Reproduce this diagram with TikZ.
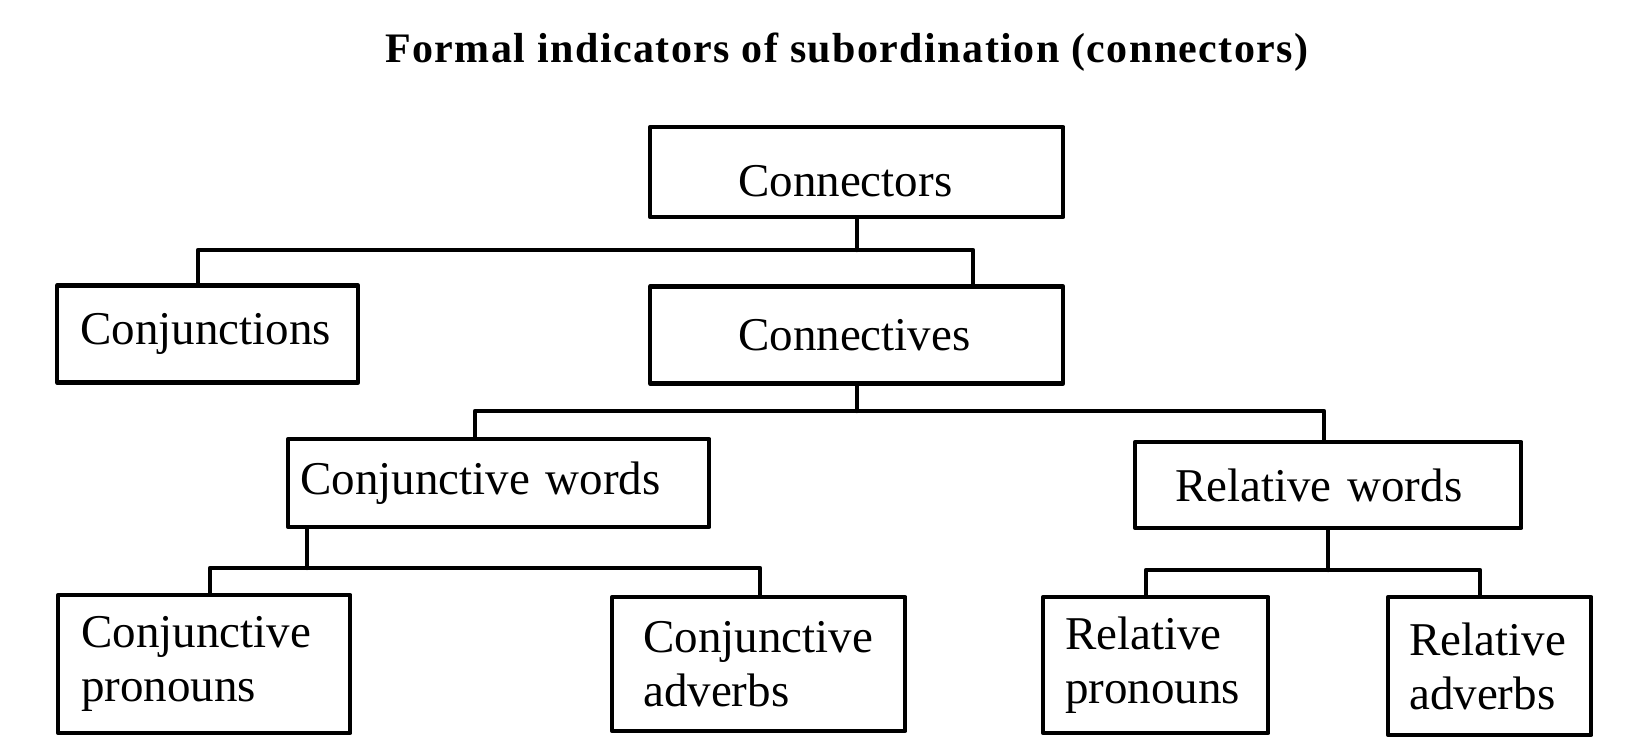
\documentclass[tikz,border=0pt]{standalone}
\usepackage{fontspec}
\setmainfont{Liberation Serif}
\newfontfamily\tieude[LetterSpace=3.4]{Liberation Serif}
\begin{document}
\begin{tikzpicture}[x=0.5pt, y=-0.5pt, line join=round, line cap=round, line width=2.2pt,
	hop/.style={draw, rectangle, anchor=west, align=left, inner ysep=0pt, font=\fontsize{23.5}{27}\selectfont}]
	\useasboundingbox (0,0) rectangle (1632,740);
	\node[anchor=base, font=\tieude\bfseries\fontsize{21}{25}\selectfont] (T) at (847,62) {Formal indicators of subordination (connectors)};
	% cac hop: ten/trai/giua/rong/cao/le/chu
	\foreach \ten/\x/\y/\w/\h/\p/\chu in {
		A/648/172/413/90/88/{\raisebox{-4.5pt}[\height][\depth]{Connectors}},
		B/55/334/301/97/23/Conjunctions,
		C/648/335/413/97/88/Connectives,
		D/286/483/421/88/12/{Conjunctive words},
		E/1133/485/386/86/40/{Relative words},
		F/56/664/292/138/23/{Conjunctive\\pronouns},
		G/610/664/293/134/31/{Conjunctive\\adverbs},
		H/1041/665/225/136/22/{Relative\\pronouns},
		I/1386/666/203/138/21/{Relative\\adverbs}}{
		\pgfmathsetmacro\rong{(\w-2*\p)/2}
		\node[hop, inner xsep=\p*0.5pt, text width=\rong pt, minimum height=\h*0.5pt] (\ten) at (\x,\y) {\chu};
	}
	\path (198,250) coordinate (b1) (973,250) coordinate (b2)
	(475,411) coordinate (c1) (1324,411) coordinate (c2)
	(307,568) coordinate (d0) (210,568) coordinate (d1) (760,568) coordinate (d2)
	(1146,570) coordinate (e1) (1480,570) coordinate (e2);
	\draw
	(A.south) -- (A.south |- b1)
	(B.north -| b1) -- (b1) -- (b2) -- (C.north -| b2)
	(C.south) -- (C.south |- c1)
	(D.north -| c1) -- (c1) -- (c2) -- (E.north -| c2)
	(D.south -| d0) -- (d0)
	(F.north -| d1) -- (d1) -- (d2) -- (G.north -| d2)
	(E.south) -- (E.south |- e1)
	(H.north -| e1) -- (e1) -- (e2) -- (I.north -| e2)
	;
\end{tikzpicture}
\end{document}
